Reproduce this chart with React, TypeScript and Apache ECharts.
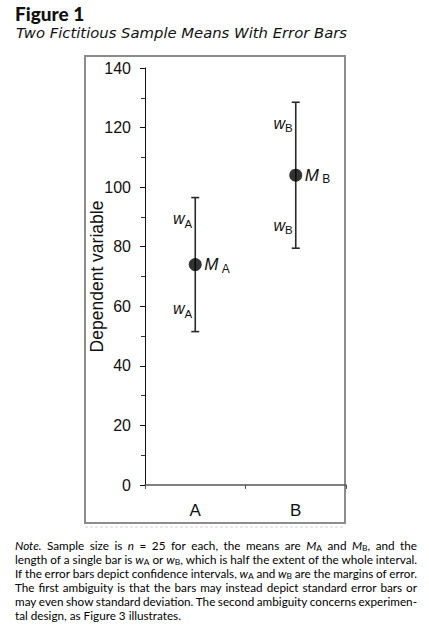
import React, { useEffect, useRef } from "react";
import * as echarts from "echarts";

const W = 429;
const H = 627;

// ---- data ----
const categories = ["A", "B"];
const means = [74, 104];
const margins = [22.5, 24.5];
const yMin = 0;
const yMax = 140;
const yInterval = 20;

const titleText = "Figure 1";
const subtitleText = "Two Fictitious Sample Means With Error Bars";
const yAxisName = "Dependent variable";

// markup: *italic*, _X = subscript char
const noteLines = [
  "*Note.* Sample size is *n* = 25 for each, the means are *M*_A and *M*_B, and the",
  "length of a single bar is *w*_A or *w*_B, which is half the extent of the whole interval.",
  "If the error bars depict confidence intervals, *w*_A and *w*_B are the margins of error.",
  "The first ambiguity is that the bars may instead depict standard error bars or",
  "may even show standard deviation. The second ambiguity concerns experimen-",
  "tal design, as Figure 3 illustrates.",
];

type Seg = { cls: string; t: string };

function parseWord(word: string): Seg[] {
  const segs: Seg[] = [];
  let italic = false;
  let cur = "";
  const flush = () => {
    if (cur) segs.push({ cls: italic ? "i" : "n", t: cur });
    cur = "";
  };
  for (let i = 0; i < word.length; i++) {
    const ch = word[i];
    if (ch === "*") {
      flush();
      italic = !italic;
      continue;
    }
    if (ch === "_") {
      flush();
      segs.push({ cls: "s", t: word[i + 1] });
      i++;
      continue;
    }
    cur += ch;
  }
  flush();
  return segs;
}

const NOTE_FAMILY = "Lato";
const NOTE_LEFT = 15;
const NOTE_RIGHT = 417;
const NOTE_TOP = 545;
const NOTE_LH = 14;

function buildNote(): any[] {
  const canvas = document.createElement("canvas");
  const ctx = canvas.getContext("2d")!;
  const fontsFor = (size: number): Record<string, string> => ({
    n: `normal 400 ${size}px ${NOTE_FAMILY}`,
    i: `italic 400 ${size}px ${NOTE_FAMILY}`,
    s: `normal 400 ${size * 0.72}px ${NOTE_FAMILY}`,
  });
  const wordsPerLine = noteLines.map((l) => l.split(/\s+/).map(parseWord));
  const measureAll = (size: number) => {
    const f = fontsFor(size);
    ctx.font = f.n;
    const sp = ctx.measureText(" ").width;
    const widths = wordsPerLine.map((ws) =>
      ws.map((w) =>
        w.reduce((a, s) => {
          ctx.font = f[s.cls];
          return a + ctx.measureText(s.t).width;
        }, 0)
      )
    );
    return { sp, widths };
  };
  // choose a size so the tightest justified line fits with slightly tight spacing
  const base = 12;
  const m0 = measureAll(base);
  let maxNat = 0;
  m0.widths.forEach((ws, li) => {
    if (li === noteLines.length - 1) return;
    const nat = ws.reduce((a, b) => a + b, 0) + m0.sp * 0.8 * (ws.length - 1);
    maxNat = Math.max(maxNat, nat);
  });
  const size = Math.min(13, (base * (NOTE_RIGHT - NOTE_LEFT)) / maxNat);
  const subSize = size * 0.72;
  const { sp, widths } = measureAll(size);

  const col = "#000";
  const rich = {
    n: { fontFamily: NOTE_FAMILY, fontSize: size, fill: col },
    i: { fontFamily: NOTE_FAMILY, fontSize: size, fontStyle: "italic", fill: col },
    s: { fontFamily: NOTE_FAMILY, fontSize: subSize, fill: col, padding: [6, 0, 0, 0] },
  };
  const els: any[] = [];
  wordsPerLine.forEach((words, li) => {
    const ws = widths[li];
    const total = ws.reduce((a, b) => a + b, 0);
    const last = li === noteLines.length - 1;
    const gap = last ? sp : (NOTE_RIGHT - NOTE_LEFT - total) / (words.length - 1);
    let x = NOTE_LEFT;
    const y = NOTE_TOP + li * NOTE_LH;
    words.forEach((w, wi) => {
      els.push({
        type: "text",
        x,
        y,
        silent: true,
        style: {
          text: w.map((s) => `{${s.cls}|${s.t}}`).join(""),
          rich,
          verticalAlign: "middle",
          align: "left",
          fontFamily: NOTE_FAMILY,
          fontSize: size,
          fill: col,
        },
      });
      x += ws[wi] + gap;
    });
  });
  return els;
}

export default function App() {
  const ref = useRef<HTMLDivElement>(null);
  useEffect(() => {
    if (!ref.current) return;
    const chart = echarts.init(ref.current, undefined, { renderer: "svg" });

    const barData = categories.map((_, i) => [i, means[i], margins[i]]);
    const meanData = categories.map((_, i) => [i, means[i]]);

    const labelRich = {
      it: { fontFamily: "Liberation Sans", fontSize: 16, fontStyle: "italic", fill: "#111" },
      sub: { fontFamily: "Liberation Sans", fontSize: 11.5, fill: "#111", padding: [10, 0, 0, 0] },
    };

    const option: any = {
      animation: false,
      backgroundColor: "#ffffff",
      grid: { left: 145, right: W - 346, top: 68, bottom: H - 485, containLabel: false },
      xAxis: {
        type: "category",
        data: categories,
        boundaryGap: true,
        axisLine: { lineStyle: { color: "#555", width: 1.5 } },
        axisTick: { show: true, length: 4, lineStyle: { color: "#555" } },
        axisLabel: {
          fontFamily: "Liberation Sans",
          fontSize: 17,
          color: "#111",
          margin: 17,
        },
        splitLine: { show: false },
      },
      yAxis: {
        type: "value",
        min: yMin,
        max: yMax,
        interval: yInterval,
        name: yAxisName,
        nameLocation: "middle",
        nameRotate: 90,
        nameGap: 39,
        nameMoveOverlap: false,
        nameTextStyle: { fontFamily: "Liberation Sans", fontSize: 17.5, color: "#111" },
        axisLine: { show: true, lineStyle: { color: "#111", width: 1 } },
        axisTick: { show: true, length: 5, lineStyle: { color: "#111" } },
        minorTick: { show: true, splitNumber: 2, length: 4, lineStyle: { color: "#333" } },
        axisLabel: {
          fontFamily: "Liberation Sans",
          fontSize: 16,
          color: "#111",
          margin: 14,
        },
        splitLine: { show: false },
        minorSplitLine: { show: false },
      },
      series: [
        {
          type: "custom",
          data: barData,
          z: 2,
          renderItem: (params: any, api: any) => {
            const idx = api.value(0);
            const m = api.value(1);
            const w = api.value(2);
            const top = api.coord([idx, m + w]);
            const mid = api.coord([idx, m]);
            const bot = api.coord([idx, m - w]);
            const cx = mid[0];
            const letter = categories[idx];
            const ls = { stroke: "#2a2a2a", lineWidth: 1.6 };
            const wLabel = (y: number) => ({
              type: "text",
              x: cx - 3,
              y,
              style: {
                text: `{it|w}{sub|${letter}}`,
                rich: labelRich,
                align: "right",
                verticalAlign: "middle",
              },
            });
            return {
              type: "group",
              children: [
                { type: "line", shape: { x1: cx, y1: top[1], x2: cx, y2: bot[1] }, style: ls },
                { type: "line", shape: { x1: cx - 4, y1: top[1], x2: cx + 4, y2: top[1] }, style: ls },
                { type: "line", shape: { x1: cx - 4, y1: bot[1], x2: cx + 4, y2: bot[1] }, style: ls },
                wLabel(top[1] + 21),
                wLabel(bot[1] - 23),
                {
                  type: "text",
                  x: cx + 9,
                  y: mid[1],
                  style: {
                    text: `{it|M} {sub|${letter}}`,
                    rich: {
                      it: { ...labelRich.it, fontSize: 17 },
                      sub: { ...labelRich.sub, fontSize: 12, padding: [8, 0, 0, 0] },
                    },
                    align: "left",
                    verticalAlign: "middle",
                  },
                },
              ],
            };
          },
        },
        {
          type: "scatter",
          data: meanData,
          symbol: "circle",
          symbolSize: 13,
          itemStyle: { color: "#000" },
          z: 3,
        },
      ],
      graphic: [
        {
          type: "rect",
          shape: { x: 85, y: 56, width: 260, height: 467 },
          style: { fill: "none", stroke: "#8c8c8c", lineWidth: 2 },
          silent: true,
          z: -1,
        },
        {
          type: "line",
          shape: { x1: 85, y1: 527, x2: 345, y2: 527 },
          style: { stroke: "#e2e2e2", lineWidth: 1.5, lineDash: [3, 2] },
          silent: true,
        },
        {
          type: "text",
          x: 15,
          y: 13,
          style: {
            text: titleText,
            fontFamily: "Lato",
            fontWeight: 900,
            fontSize: 19,
            fill: "#111",
            verticalAlign: "middle",
          },
        },
        {
          type: "text",
          x: 16,
          y: 32.5,
          style: {
            text: subtitleText,
            fontFamily: "DejaVu Sans",
            fontStyle: "italic",
            fontSize: 14.8,
            fill: "#111",
            verticalAlign: "middle",
          },
        },
        ...buildNote(),
      ],
    };
    chart.setOption(option);
    return () => chart.dispose();
  }, []);
  return (
    <div
      ref={ref}
      style={{ position: "fixed", left: 0, top: 0, width: W, height: H, background: "#fff" }}
    />
  );
}
